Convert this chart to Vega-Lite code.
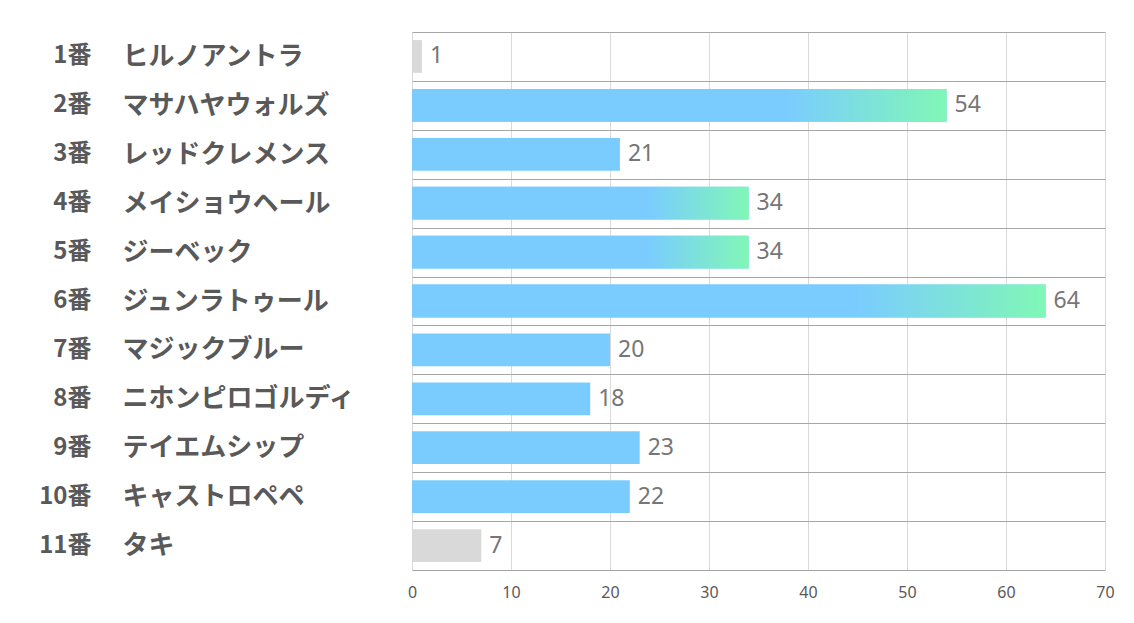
{
  "$schema": "https://vega.github.io/schema/vega-lite/v6.json",
  "autosize": "none",
  "width": 693,
  "height": 538,
  "padding": {"left": 412, "top": 32, "right": 29, "bottom": 53},
  "background": "white",
  "config": {"view": {"stroke": null}},
  "data": {"values": [
    {"num": "1番", "name": "ヒルノアントラ", "value": 1, "group": "gray", "grad": false},
    {"num": "2番", "name": "マサハヤウォルズ", "value": 54, "group": "blue", "grad": true},
    {"num": "3番", "name": "レッドクレメンス", "value": 21, "group": "blue", "grad": false},
    {"num": "4番", "name": "メイショウヘール", "value": 34, "group": "blue", "grad": true},
    {"num": "5番", "name": "ジーベック", "value": 34, "group": "blue", "grad": true},
    {"num": "6番", "name": "ジュンラトゥール", "value": 64, "group": "blue", "grad": true},
    {"num": "7番", "name": "マジックブルー", "value": 20, "group": "blue", "grad": false},
    {"num": "8番", "name": "ニホンピロゴルディ", "value": 18, "group": "blue", "grad": false},
    {"num": "9番", "name": "テイエムシップ", "value": 23, "group": "blue", "grad": false},
    {"num": "10番", "name": "キャストロペペ", "value": 22, "group": "blue", "grad": false},
    {"num": "11番", "name": "タキ", "value": 7, "group": "gray", "grad": false}
  ]},
  "resolve": {"scale": {"y": "independent"}, "axis": {"y": "independent"}},
  "layer": [
    {
      "mark": {"type": "text", "align": "left", "baseline": "middle", "dx": 8, "font": "Noto Sans", "fontSize": 23, "color": "#767676"},
      "encoding": {
        "y": {"field": "name", "type": "nominal", "sort": null,
          "scale": {"paddingInner": 0, "paddingOuter": 0},
          "axis": {"title": null, "orient": "left", "offset": 290, "labelAlign": "left", "labelPadding": 0, "ticks": false, "tickSize": 0, "domain": false,
            "grid": true, "tickBand": "extent", "gridColor": "#a6a6a6", "gridWidth": 1,
            "labelFont": "Noto Sans CJK JP", "labelFontWeight": "bold", "labelFontSize": 26, "labelColor": "#595959", "labelLimit": 0}},
        "x": {"field": "value", "type": "quantitative",
          "scale": {"domain": [0, 70], "nice": false},
          "axis": {"title": null, "values": [0, 10, 20, 30, 40, 50, 60, 70], "grid": true, "gridColor": "#d9d9d9", "domain": false, "ticks": false, "labelFlush": false,
            "labelFont": "Noto Sans", "labelFontSize": 16, "labelColor": "#595959", "labelPadding": 14}},
        "text": {"field": "value", "type": "quantitative"}
      }
    },
    {
      "mark": {"type": "bar"},
      "encoding": {
        "y": {"field": "num", "type": "nominal", "sort": null,
          "scale": {"paddingInner": 0.33, "paddingOuter": 0.165},
          "axis": {"title": null, "orient": "left", "offset": 321, "labelAlign": "right", "labelPadding": 0, "ticks": false, "tickSize": 0, "domain": false, "grid": false,
            "labelFont": "Noto Sans CJK JP", "labelFontWeight": "bold", "labelFontSize": 24, "labelColor": "#595959", "labelLimit": 0}},
        "x": {"field": "value", "type": "quantitative"},
        "color": {"field": "group", "type": "nominal", "legend": null,
          "scale": {"domain": ["gray", "blue"], "range": ["#d9d9d9", "#7accff"]}}
      }
    },
    {
      "mark": {"type": "bar", "color": {"gradient": "linear", "x1": 0, "x2": 1, "y1": 0, "y2": 0,
        "stops": [{"offset": 0, "color": "#7accff"}, {"offset": 0.7, "color": "#7accff"}, {"offset": 1, "color": "#80f7b6"}]}},
      "encoding": {
        "y": {"field": "num", "type": "nominal", "sort": null, "axis": null,
          "scale": {"paddingInner": 0.33, "paddingOuter": 0.165}},
        "x": {"field": "value", "type": "quantitative"},
        "opacity": {"condition": {"test": "datum.grad", "value": 1}, "value": 0}
      }
    }
  ]
}
